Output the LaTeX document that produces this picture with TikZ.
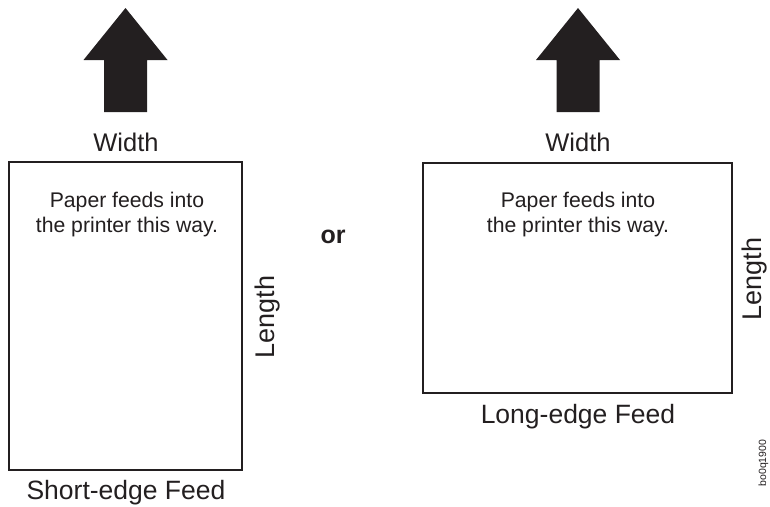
\documentclass[tikz,border=0pt]{standalone}
\usepackage{fontspec}
\setmainfont{Liberation Sans}
\usetikzlibrary{positioning}
\definecolor{ink}{HTML}{231F20}
\tikzset{
  sheet/.style={draw=ink, line width=1.3pt, inner sep=0pt, fill=white},
  blockarrow/.style={fill=ink, draw=none},
  edgetext/.style={text=ink, inner sep=0pt, anchor=base, font=\fontsize{25.5}{30}\selectfont},
  nametext/.style={edgetext, font=\fontsize{26.5}{30}\selectfont},
  sidetext/.style={edgetext, rotate=90, font=\fontsize{27}{30}\selectfont},
  feedtext/.style={text=ink, inner sep=0pt, anchor=north, align=center,
                   font=\fontsize{21.2}{25}\selectfont},
  ortext/.style={text=ink, inner sep=0pt, anchor=base, font=\fontsize{25}{30}\selectfont\bfseries},
  figid/.style={text=ink, inner sep=0pt, anchor=base, rotate=90, font=\fontsize{10.5}{13}\selectfont},
}
\newcommand{\feedarrow}[2]{%
  \coordinate (#1) at (#2,8);%
  \fill[blockarrow] (#1) -- ++(42,52) -- ++(-20.5,0) -- ++(0,52) -- ++(-43,0)
    -- ++(0,-52) -- ++(-20.5,0) -- cycle;%
}

\begin{document}
\begin{tikzpicture}[x=1pt, y=-1pt]
  \useasboundingbox (0,0) rectangle (770,506);

  % --- direction of feed ---------------------------------------------------
  \feedarrow{arrow-short}{125.5}
  \feedarrow{arrow-long}{578}

  % --- the two sheets ------------------------------------------------------
  \node[sheet, minimum width=233pt, minimum height=308pt] (short) at (125.5,316) {};
  \node[sheet, minimum width=309pt, minimum height=230pt] (long) at (577.5,278) {};

  % --- short-edge sheet ----------------------------------------------------
  \node[edgetext] (short-width) at (126,151) {Width};
  \node[feedtext] (short-note) at (127,192) {Paper feeds into\\the printer this way.};
  \node[sidetext] (short-length) at (274,317) {Length};
  \node[nametext] (short-name) at (126,499.5) {Short-edge Feed};

  % --- or ------------------------------------------------------------------
  \node[ortext] (or) at (333,243) {or};

  % --- long-edge sheet -----------------------------------------------------
  \node[edgetext] (long-width) at (578,151) {Width};
  \node[feedtext] (long-note) at (578,192) {Paper feeds into\\the printer this way.};
  \node[sidetext] (long-length) at (761,279) {Length};
  \node[nametext] (long-name) at (578,423) {Long-edge Feed};

  % --- figure id -----------------------------------------------------------
  \node[figid] (fig-id) at (766,463) {bo0q1900};

\end{tikzpicture}
\end{document}
